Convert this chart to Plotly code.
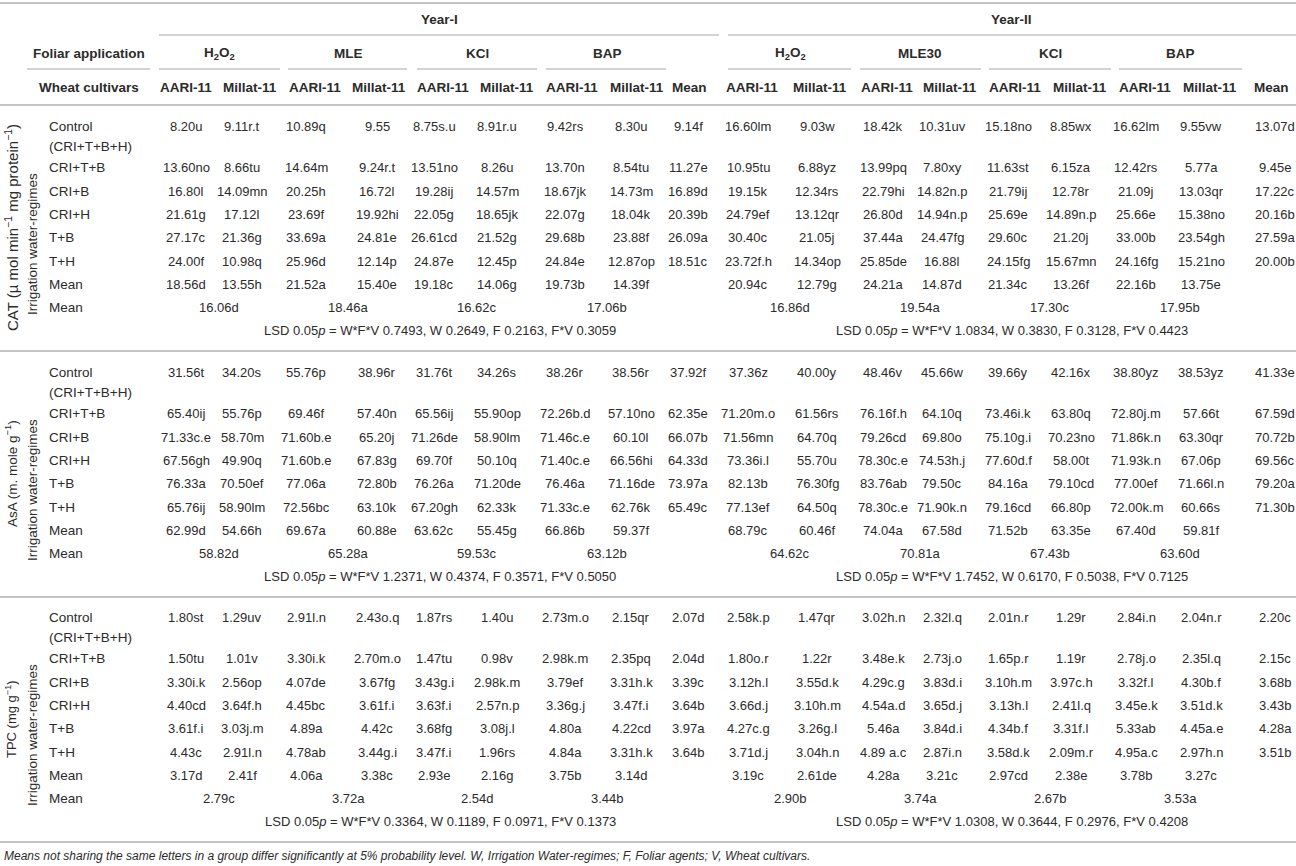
import plotly.graph_objects as go

# ---- table content -------------------------------------------------------
years = ["Year-I", "Year-II"]
agents = [["H<sub>2</sub>O<sub>2</sub>", "MLE", "KCl", "BAP"],
          ["H<sub>2</sub>O<sub>2</sub>", "MLE30", "KCl", "BAP"]]
cultivars = ["AARI-11", "Millat-11"]
regimes = ["Control", "CRI+T+B", "CRI+B", "CRI+H", "T+B", "T+H", "Mean"]
control_note = "(CRI+T+B+H)"
measures = ["CAT (\u00b5 mol min<sup>\u22121</sup> mg protein<sup>\u22121</sup>)",
            "AsA (m. mole g<sup>\u22121</sup>)",
            "TPC (mg g<sup>\u22121</sup>)"]

cat_y1 = [
    ["8.20u", "9.11r.t", "10.89q", "9.55", "8.75s.u", "8.91r.u", "9.42rs", "8.30u", "9.14f"],
    ["13.60no", "8.66tu", "14.64m", "9.24r.t", "13.51no", "8.26u", "13.70n", "8.54tu", "11.27e"],
    ["16.80l", "14.09mn", "20.25h", "16.72l", "19.28ij", "14.57m", "18.67jk", "14.73m", "16.89d"],
    ["21.61g", "17.12l", "23.69f", "19.92hi", "22.05g", "18.65jk", "22.07g", "18.04k", "20.39b"],
    ["27.17c", "21.36g", "33.69a", "24.81e", "26.61cd", "21.52g", "29.68b", "23.88f", "26.09a"],
    ["24.00f", "10.98q", "25.96d", "12.14p", "24.87e", "12.45p", "24.84e", "12.87op", "18.51c"],
    ["18.56d", "13.55h", "21.52a", "15.40e", "19.18c", "14.06g", "19.73b", "14.39f", ""],
]
cat_y2 = [
    ["16.60lm", "9.03w", "18.42k", "10.31uv", "15.18no", "8.85wx", "16.62lm", "9.55vw", "13.07d"],
    ["10.95tu", "6.88yz", "13.99pq", "7.80xy", "11.63st", "6.15za", "12.42rs", "5.77a", "9.45e"],
    ["19.15k", "12.34rs", "22.79hi", "14.82n.p", "21.79ij", "12.78r", "21.09j", "13.03qr", "17.22c"],
    ["24.79ef", "13.12qr", "26.80d", "14.94n.p", "25.69e", "14.89n.p", "25.66e", "15.38no", "20.16b"],
    ["30.40c", "21.05j", "37.44a", "24.47fg", "29.60c", "21.20j", "33.00b", "23.54gh", "27.59a"],
    ["23.72f.h", "14.34op", "25.85de", "16.88l", "24.15fg", "15.67mn", "24.16fg", "15.21no", "20.00b"],
    ["20.94c", "12.79g", "24.21a", "14.87d", "21.34c", "13.26f", "22.16b", "13.75e", ""],
]
cat_means = [["16.06d", "18.46a", "16.62c", "17.06b"], ["16.86d", "19.54a", "17.30c", "17.95b"]]
cat_lsd = ["W*F*V 0.7493, W 0.2649, F 0.2163, F*V 0.3059",
           "W*F*V 1.0834, W 0.3830, F 0.3128, F*V 0.4423"]

asa_y1 = [
    ["31.56t", "34.20s", "55.76p", "38.96r", "31.76t", "34.26s", "38.26r", "38.56r", "37.92f"],
    ["65.40ij", "55.76p", "69.46f", "57.40n", "65.56ij", "55.90op", "72.26b.d", "57.10no", "62.35e"],
    ["71.33c.e", "58.70m", "71.60b.e", "65.20j", "71.26de", "58.90lm", "71.46c.e", "60.10l", "66.07b"],
    ["67.56gh", "49.90q", "71.60b.e", "67.83g", "69.70f", "50.10q", "71.40c.e", "66.56hi", "64.33d"],
    ["76.33a", "70.50ef", "77.06a", "72.80b", "76.26a", "71.20de", "76.46a", "71.16de", "73.97a"],
    ["65.76ij", "58.90lm", "72.56bc", "63.10k", "67.20gh", "62.33k", "71.33c.e", "62.76k", "65.49c"],
    ["62.99d", "54.66h", "69.67a", "60.88e", "63.62c", "55.45g", "66.86b", "59.37f", ""],
]
asa_y2 = [
    ["37.36z", "40.00y", "48.46v", "45.66w", "39.66y", "42.16x", "38.80yz", "38.53yz", "41.33e"],
    ["71.20m.o", "61.56rs", "76.16f.h", "64.10q", "73.46i.k", "63.80q", "72.80j.m", "57.66t", "67.59d"],
    ["71.56mn", "64.70q", "79.26cd", "69.80o", "75.10g.i", "70.23no", "71.86k.n", "63.30qr", "70.72b"],
    ["73.36i.l", "55.70u", "78.30c.e", "74.53h.j", "77.60d.f", "58.00t", "71.93k.n", "67.06p", "69.56c"],
    ["82.13b", "76.30fg", "83.76ab", "79.50c", "84.16a", "79.10cd", "77.00ef", "71.66l.n", "79.20a"],
    ["77.13ef", "64.50q", "78.30c.e", "71.90k.n", "79.16cd", "66.80p", "72.00k.m", "60.66s", "71.30b"],
    ["68.79c", "60.46f", "74.04a", "67.58d", "71.52b", "63.35e", "67.40d", "59.81f", ""],
]
asa_means = [["58.82d", "65.28a", "59.53c", "63.12b"], ["64.62c", "70.81a", "67.43b", "63.60d"]]
asa_lsd = ["W*F*V 1.2371, W 0.4374, F 0.3571, F*V 0.5050",
           "W*F*V 1.7452, W 0.6170, F 0.5038, F*V 0.7125"]

tpc_y1 = [
    ["1.80st", "1.29uv", "2.91l.n", "2.43o.q", "1.87rs", "1.40u", "2.73m.o", "2.15qr", "2.07d"],
    ["1.50tu", "1.01v", "3.30i.k", "2.70m.o", "1.47tu", "0.98v", "2.98k.m", "2.35pq", "2.04d"],
    ["3.30i.k", "2.56op", "4.07de", "3.67fg", "3.43g.i", "2.98k.m", "3.79ef", "3.31h.k", "3.39c"],
    ["4.40cd", "3.64f.h", "4.45bc", "3.61f.i", "3.63f.i", "2.57n.p", "3.36g.j", "3.47f.i", "3.64b"],
    ["3.61f.i", "3.03j.m", "4.89a", "4.42c", "3.68fg", "3.08j.l", "4.80a", "4.22cd", "3.97a"],
    ["4.43c", "2.91l.n", "4.78ab", "3.44g.i", "3.47f.i", "1.96rs", "4.84a", "3.31h.k", "3.64b"],
    ["3.17d", "2.41f", "4.06a", "3.38c", "2.93e", "2.16g", "3.75b", "3.14d", ""],
]
tpc_y2 = [
    ["2.58k.p", "1.47qr", "3.02h.n", "2.32l.q", "2.01n.r", "1.29r", "2.84i.n", "2.04n.r", "2.20c"],
    ["1.80o.r", "1.22r", "3.48e.k", "2.73j.o", "1.65p.r", "1.19r", "2.78j.o", "2.35l.q", "2.15c"],
    ["3.12h.l", "3.55d.k", "4.29c.g", "3.83d.i", "3.10h.m", "3.97c.h", "3.32f.l", "4.30b.f", "3.68b"],
    ["3.66d.j", "3.10h.m", "4.54a.d", "3.65d.j", "3.13h.l", "2.41l.q", "3.45e.k", "3.51d.k", "3.43b"],
    ["4.27c.g", "3.26g.l", "5.46a", "3.84d.i", "4.34b.f", "3.31f.l", "5.33ab", "4.45a.e", "4.28a"],
    ["3.71d.j", "3.04h.n", "4.89 a.c", "2.87i.n", "3.58d.k", "2.09m.r", "4.95a.c", "2.97h.n", "3.51b"],
    ["3.19c", "2.61de", "4.28a", "3.21c", "2.97cd", "2.38e", "3.78b", "3.27c", ""],
]
tpc_means = [["2.79c", "3.72a", "2.54d", "3.44b"], ["2.90b", "3.74a", "2.67b", "3.53a"]]
tpc_lsd = ["W*F*V 0.3364, W 0.1189, F 0.0971, F*V 0.1373",
           "W*F*V 1.0308, W 0.3644, F 0.2976, F*V 0.4208"]

footnote = ("Means not sharing the same letters in a group differ significantly at 5% probability level. "
            "W, Irrigation Water-regimes; F, Foliar agents; V, Wheat cultivars.")

sections = [
    (measures[0], [cat_y1, cat_y2], cat_means, cat_lsd),
    (measures[1], [asa_y1, asa_y2], asa_means, asa_lsd),
    (measures[2], [tpc_y1, tpc_y2], tpc_means, tpc_lsd),
]

# ---- layout (pixel grid of the table) ------------------------------------
W, H = 1296, 866
FONT = "Liberation Sans, Arial, sans-serif"
TXT = "#2b2b2b"
LINE = "#c4c4c4"

hdr_x = [[186, 250, 315, 379, 443, 507, 572, 637, 689],
         [752, 820, 887, 950, 1015, 1080, 1145, 1210, 1271]]
col_x = [[186, 242, 306, 377, 434, 497, 565, 631, 688],
         [748, 817, 883, 942, 1008, 1071, 1136, 1201, 1275]]
grp_x = [[219, 348, 477, 607], [790, 920, 1050, 1180]]
grp_span = [[(159, 280), (288, 407), (417, 537), (546, 666)],
            [(728, 851), (860, 981), (989, 1111), (1119, 1242)]]
year_x = [439, 1011]
year_span = [(159, 719), (728, 1296)]
sec_top = [105, 351, 596]
row_off = [21, 62, 86, 109, 132, 156, 179]
label_size = [15, 13.5, 13]

fig = go.Figure()
fig.add_trace(go.Scatter(x=[0, W], y=[0, H], mode="markers",
                         marker=dict(opacity=0), hoverinfo="skip", showlegend=False))

ann = []
shapes = []


def txt(x, y, s, size=13, bold=False, anchor="center", angle=0, italic=False, color=TXT):
    if bold:
        s = "<b>" + s + "</b>"
    if italic:
        s = "<i>" + s + "</i>"
    ann.append(dict(x=x, y=y, xref="x", yref="y", text=s, showarrow=False,
                    xanchor=anchor, yanchor="middle", textangle=angle,
                    font=dict(family=FONT, size=size, color=color)))


def hline(x0, x1, y, w=1.5, color=LINE):
    shapes.append(dict(type="line", xref="x", yref="y", x0=x0, x1=x1, y0=y, y1=y,
                       line=dict(color=color, width=w)))


# header
hline(0, W, 3, 2)
for k, yr in enumerate(years):
    txt(year_x[k], 19, yr, size=13.5, bold=True)
    hline(year_span[k][0], year_span[k][1], 35, 1.5)
    for g, ag in enumerate(agents[k]):
        txt(grp_x[k][g], 53, ag, size=13.5, bold=True)
        hline(grp_span[k][g][0], grp_span[k][g][1], 69, 1.5)
    for c in range(8):
        txt(hdr_x[k][c], 87, cultivars[c % 2], size=13.5, bold=True)
    txt(hdr_x[k][8], 87, "Mean", size=13.5, bold=True)
txt(89, 53, "Foliar application", size=13.5, bold=True)
hline(27, 150, 69, 1.5)
txt(89, 87, "Wheat cultivars", size=13.5, bold=True)
hline(0, W, 105, 2)

# body
for s, (label, tables, gmeans, lsd) in enumerate(sections):
    top = sec_top[s]
    txt(11, top + 123, label, size=label_size[s], angle=-90)
    txt(32, top + 139, "Irrigation water-regimes", size=13.5, angle=-90)
    for r, name in enumerate(regimes):
        txt(47, top + row_off[r], name, size=13.5, anchor="left")
    txt(47, top + 41, control_note, size=13.5, anchor="left")
    txt(47, top + 202, "Mean", size=13.5, anchor="left")
    for k in range(2):
        for r, row in enumerate(tables[k]):
            for c, v in enumerate(row):
                if v:
                    txt(col_x[k][c], top + row_off[r], v, size=13)
        for g, v in enumerate(gmeans[k]):
            txt(grp_x[k][g], top + 202, v, size=13)
        txt(year_x[k] + 1, top + 225, "LSD 0.05<i>p</i> = " + lsd[k], size=13)
    hline(0, W, top + 246, 2)

txt(2, 856, footnote, size=12, anchor="left", italic=True)

fig.update_layout(
    width=W, height=H,
    margin=dict(l=0, r=0, t=0, b=0),
    paper_bgcolor="white", plot_bgcolor="white",
    xaxis=dict(range=[0, W], visible=False, fixedrange=True),
    yaxis=dict(range=[H, 0], visible=False, fixedrange=True),
    annotations=ann, shapes=shapes,
    showlegend=False,
)

# page body has an 8px default margin; drop it so the table sits at 0,0
fig.write_html("out.html", config={"displayModeBar": False},
               post_script="document.body.style.margin='0px';")
